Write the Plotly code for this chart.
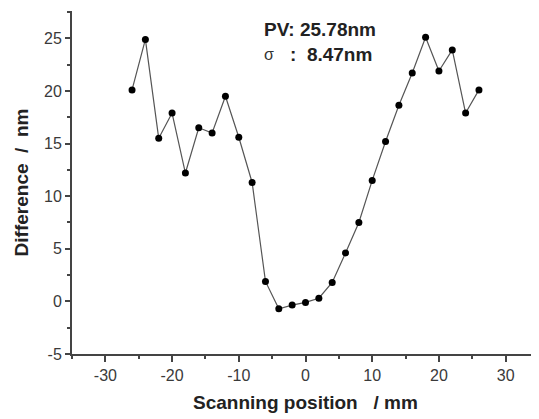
import plotly.graph_objects as go

positions = [-26, -24, -22, -20, -18, -16, -14, -12, -10, -8, -6, -4, -2, 0,
             2, 4, 6, 8, 10, 12, 14, 16, 18, 20, 22, 24, 26]
difference = [20.1, 24.9, 15.5, 17.9, 12.2, 16.5, 16.0, 19.5, 15.6, 11.3, 1.9, -0.7,
              -0.35, -0.1, 0.3, 1.8, 4.6, 7.5, 11.5, 15.2, 18.65, 21.7, 25.1, 21.9,
              23.9, 17.9, 20.1]
x_ticks = [-30, -20, -10, 0, 10, 20, 30]
y_ticks = [-5, 0, 5, 10, 15, 20, 25]

fig = go.Figure()
fig.add_trace(go.Scatter(
    x=positions, y=difference, mode="lines+markers",
    line=dict(color="#555555", width=1.2),
    marker=dict(color="black", size=7),
    showlegend=False,
))

axis_font = dict(family="Liberation Sans, Arial", size=16, color="#3a3a3a")
title_font = dict(family="Liberation Sans, Arial", size=19, color="#222222")
note_font = dict(family="Liberation Sans, Arial", size=19, color="#222222")

fig.update_xaxes(
    range=[-35, 35], tickvals=x_ticks, ticktext=[str(v) for v in x_ticks],
    ticks="outside", ticklen=6, tickwidth=1.5, tickcolor="#444444",
    minor=dict(dtick=5, ticks="outside", ticklen=3, tickwidth=1.5, tickcolor="#444444"),
    showline=True, linecolor="#444444", linewidth=2,
    showgrid=False, zeroline=False, tickfont=axis_font, automargin=False,
    title=dict(text="<b>Scanning position   / mm</b>", font=title_font, standoff=12),
)
fig.update_yaxes(
    range=[-5, 27.6], tickvals=y_ticks, ticktext=[str(v) for v in y_ticks],
    ticks="outside", ticklen=5, tickwidth=1.5, tickcolor="#444444",
    minor=dict(dtick=2.5, ticks="outside", ticklen=3, tickwidth=1.5, tickcolor="#444444"),
    showline=True, linecolor="#444444", linewidth=2,
    showgrid=False, zeroline=False, tickfont=axis_font, automargin=False,
    title=dict(text="<b>Difference  /  nm</b>", font=title_font, standoff=10),
)

fig.add_annotation(
    xref="paper", yref="paper", x=0.407, y=0.946, xanchor="left", yanchor="middle",
    text="<b>PV: 25.78nm</b>", showarrow=False, font=note_font,
)
fig.add_annotation(
    xref="paper", yref="paper", x=0.407, y=0.872, xanchor="left", yanchor="middle",
    text="σ", showarrow=False,
    font=dict(family="Liberation Sans, Arial", size=16, color="#333333"),
)
fig.add_annotation(
    xref="paper", yref="paper", x=0.462, y=0.873, xanchor="left", yanchor="middle",
    text="<b>:  8.47nm</b>", showarrow=False, font=note_font,
)

# the page body adds an 8px offset, so the figure is sized to fill the window
fig.update_layout(
    width=531, height=411,
    margin=dict(l=64, r=0, t=3, b=65),
    plot_bgcolor="white", paper_bgcolor="white",
)

fig.write_html("out.html")
